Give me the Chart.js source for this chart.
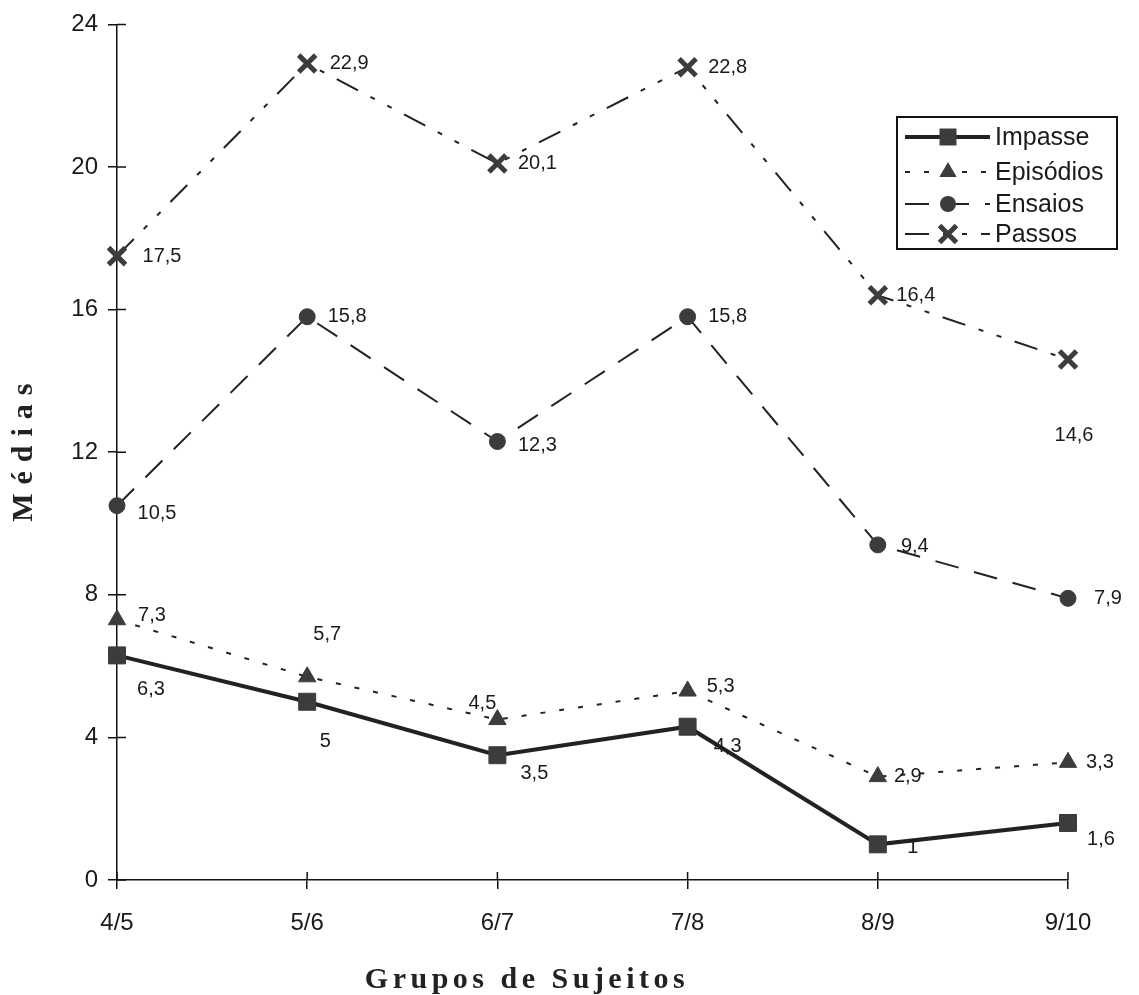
<!DOCTYPE html>
<html>
<head>
<meta charset="utf-8">
<script src="https://cdn.jsdelivr.net/npm/chart.js@4.4.0/dist/chart.umd.min.js"></script>
<style>
  html, body { margin: 0; padding: 0; background: #fff; }
  #wrap { width: 1139px; height: 995px; }
</style>
</head>
<body>
<div id="wrap"><canvas id="grafico" width="1139" height="995"></canvas></div>
<script>
// dados
const grupos = ['4/5', '5/6', '6/7', '7/8', '8/9', '9/10'];
const yTicks = [0, 4, 8, 12, 16, 20, 24];

const impasse   = [6.3, 5, 3.5, 4.3, 1, 1.6];
const episodios = [7.3, 5.7, 4.5, 5.3, 2.9, 3.3];
const ensaios   = [10.5, 15.8, 12.3, 15.8, 9.4, 7.9];
const passos    = [17.5, 22.9, 20.1, 22.8, 16.4, 14.6];

// deslocamento dos rótulos (px, relativo ao ponto)
const offImpasse   = [[34, 34], [18, 40], [37, 18], [40, 20], [35, 3], [33, 17]];
const offEpisodios = [[35, -4], [20, -42], [-15, -16], [33, -5], [30, 0], [32, 0]];
const offEnsaios   = [[40, 8], [40, 0], [40, 4], [40, 0], [37, 2], [40, 0]];
const offPassos    = [[45, 0], [42, 0], [40, 0], [40, 0], [38, 0], [6, 76]];

const lineColor = '#222';
const markColor = '#3c3c3c';
const sansFont = "'Liberation Sans', Arial, sans-serif";
const serifFont = "'Liberation Serif', 'Times New Roman', serif";

function serie(label, data, offs, dash, width, style, radius, markWidth) {
    return {
        label: label,
        data: data,
        offsets: offs,
        borderColor: lineColor,
        borderWidth: width,
        borderDash: dash,
        pointStyle: style,
        pointRadius: radius,
        pointHoverRadius: radius,
        pointBackgroundColor: markColor,
        pointBorderColor: markColor,
        pointBorderWidth: markWidth,
        tension: 0,
        fill: false,
        clip: false
    };
}

// desenha um marcador para a legenda
function drawMarker(ctx, style, r, x, y, bw) {
    ctx.save();
    ctx.setLineDash([]);
    ctx.fillStyle = markColor;
    ctx.strokeStyle = markColor;
    ctx.lineWidth = bw;
    ctx.beginPath();
    if (style === 'rect') {
        const s = r * Math.SQRT1_2;
        ctx.rect(x - s, y - s, 2 * s, 2 * s);
        ctx.fill();
    } else if (style === 'triangle') {
        for (let k = 0; k < 3; k++) {
            const a = k * 2 * Math.PI / 3;
            const px = x + Math.sin(a) * r, py = y - Math.cos(a) * r;
            if (k === 0) ctx.moveTo(px, py); else ctx.lineTo(px, py);
        }
        ctx.closePath();
        ctx.fill();
    } else if (style === 'circle') {
        ctx.arc(x, y, r, 0, 2 * Math.PI);
        ctx.fill();
    } else {
        const o = r * Math.SQRT1_2;
        ctx.moveTo(x - o, y - o); ctx.lineTo(x + o, y + o);
        ctx.moveTo(x - o, y + o); ctx.lineTo(x + o, y - o);
        ctx.stroke();
    }
    ctx.restore();
}

const extrasPlugin = {
    id: 'extras',
    afterDatasetsDraw(chart) {
        const ctx = chart.ctx;
        ctx.save();
        ctx.font = '20px ' + sansFont;
        ctx.fillStyle = '#1a1a1a';
        ctx.textAlign = 'center';
        ctx.textBaseline = 'middle';
        chart.data.datasets.forEach((ds, di) => {
            const meta = chart.getDatasetMeta(di);
            meta.data.forEach((pt, i) => {
                const off = ds.offsets[i];
                const txt = String(ds.data[i]).replace('.', ',');
                ctx.fillText(txt, pt.x + off[0], pt.y + off[1]);
            });
        });
        ctx.restore();
    },
    afterDraw(chart) {
        const ctx = chart.ctx;
        const area = chart.chartArea;
        const yScale = chart.scales.y;
        const xScale = chart.scales.x;

        // marcas de escala para dentro também
        ctx.save();
        ctx.strokeStyle = '#111';
        ctx.lineWidth = 1.5;
        ctx.beginPath();
        yScale.ticks.forEach(t => {
            const y = yScale.getPixelForValue(t.value);
            ctx.moveTo(area.left, y); ctx.lineTo(area.left + 9, y);
        });
        xScale.ticks.forEach((t, i) => {
            const x = xScale.getPixelForTick(i);
            ctx.moveTo(x, area.bottom); ctx.lineTo(x, area.bottom - 8);
        });
        ctx.stroke();
        ctx.restore();

        // títulos dos eixos
        ctx.save();
        ctx.fillStyle = '#222';
        ctx.font = 'bold 30px ' + serifFont;
        ctx.textAlign = 'center';
        ctx.textBaseline = 'middle';
        ctx.letterSpacing = '9px';
        ctx.translate(24, (area.top + area.bottom) / 2);
        ctx.rotate(-Math.PI / 2);
        ctx.fillText('Médias', 4, 0);
        ctx.restore();

        ctx.save();
        ctx.fillStyle = '#222';
        ctx.font = 'bold 30px ' + serifFont;
        ctx.textAlign = 'center';
        ctx.textBaseline = 'middle';
        ctx.letterSpacing = '4.5px';
        ctx.fillText('Grupos de Sujeitos', 527, 980);
        ctx.restore();

        // legenda
        const lx = 897, ly = 117, lw = 220, lh = 132;
        const rows = [137, 172, 204, 234];
        ctx.save();
        ctx.fillStyle = '#fff';
        ctx.fillRect(lx, ly, lw, lh);
        ctx.strokeStyle = '#111';
        ctx.lineWidth = 2;
        ctx.strokeRect(lx, ly, lw, lh);
        chart.data.datasets.forEach((ds, di) => {
            const y = rows[di];
            ctx.save();
            ctx.strokeStyle = lineColor;
            ctx.lineWidth = ds.borderWidth;
            ctx.setLineDash(ds.borderDash);
            ctx.beginPath();
            ctx.moveTo(905, y); ctx.lineTo(990, y);
            ctx.stroke();
            ctx.restore();
            drawMarker(ctx, ds.pointStyle, ds.pointRadius, 948, y, ds.pointBorderWidth);
            ctx.font = '25px ' + sansFont;
            ctx.fillStyle = '#1a1a1a';
            ctx.textAlign = 'left';
            ctx.textBaseline = 'middle';
            ctx.fillText(ds.label, 995, y + 1);
        });
        ctx.restore();
    }
};

const axisGrid = {
    drawOnChartArea: false,
    drawTicks: true,
    tickLength: 9,
    color: '#111',
    lineWidth: 1.5
};

new Chart(document.getElementById('grafico'), {
    type: 'line',
    data: {
        labels: grupos,
        datasets: [
            serie('Impasse', impasse, offImpasse, [], 4, 'rect', 12, 1),
            serie('Episódios', episodios, offEpisodios, [5, 14], 2, 'triangle', 10, 1),
            serie('Ensaios', ensaios, offEnsaios, [24, 16], 2, 'circle', 8, 1),
            serie('Passos', passos, offPassos, [24, 14, 5, 14, 5, 14], 2, 'crossRot', 12, 5)
        ]
    },
    options: {
        responsive: false,
        devicePixelRatio: 1,
        animation: false,
        events: [],
        layout: { padding: { left: 0, top: 21, right: 71, bottom: 0 } },
        plugins: {
            legend: { display: false },
            tooltip: { enabled: false }
        },
        scales: {
            x: {
                type: 'category',
                offset: false,
                grid: axisGrid,
                border: { display: true, color: '#111', width: 1.5 },
                ticks: {
                    color: '#1a1a1a',
                    padding: 20,
                    maxRotation: 0,
                    font: { family: sansFont, size: 24 }
                },
                afterFit(scale) { scale.height = 115; }
            },
            y: {
                min: 0,
                max: 24,
                grid: axisGrid,
                border: { display: true, color: '#111', width: 1.5 },
                afterBuildTicks(scale) { scale.ticks = yTicks.map(v => ({ value: v })); },
                ticks: {
                    color: '#1a1a1a',
                    padding: 10,
                    font: { family: sansFont, size: 24 }
                },
                afterFit(scale) { scale.width = 117; }
            }
        }
    },
    plugins: [extrasPlugin]
});
</script>
</body>
</html>
